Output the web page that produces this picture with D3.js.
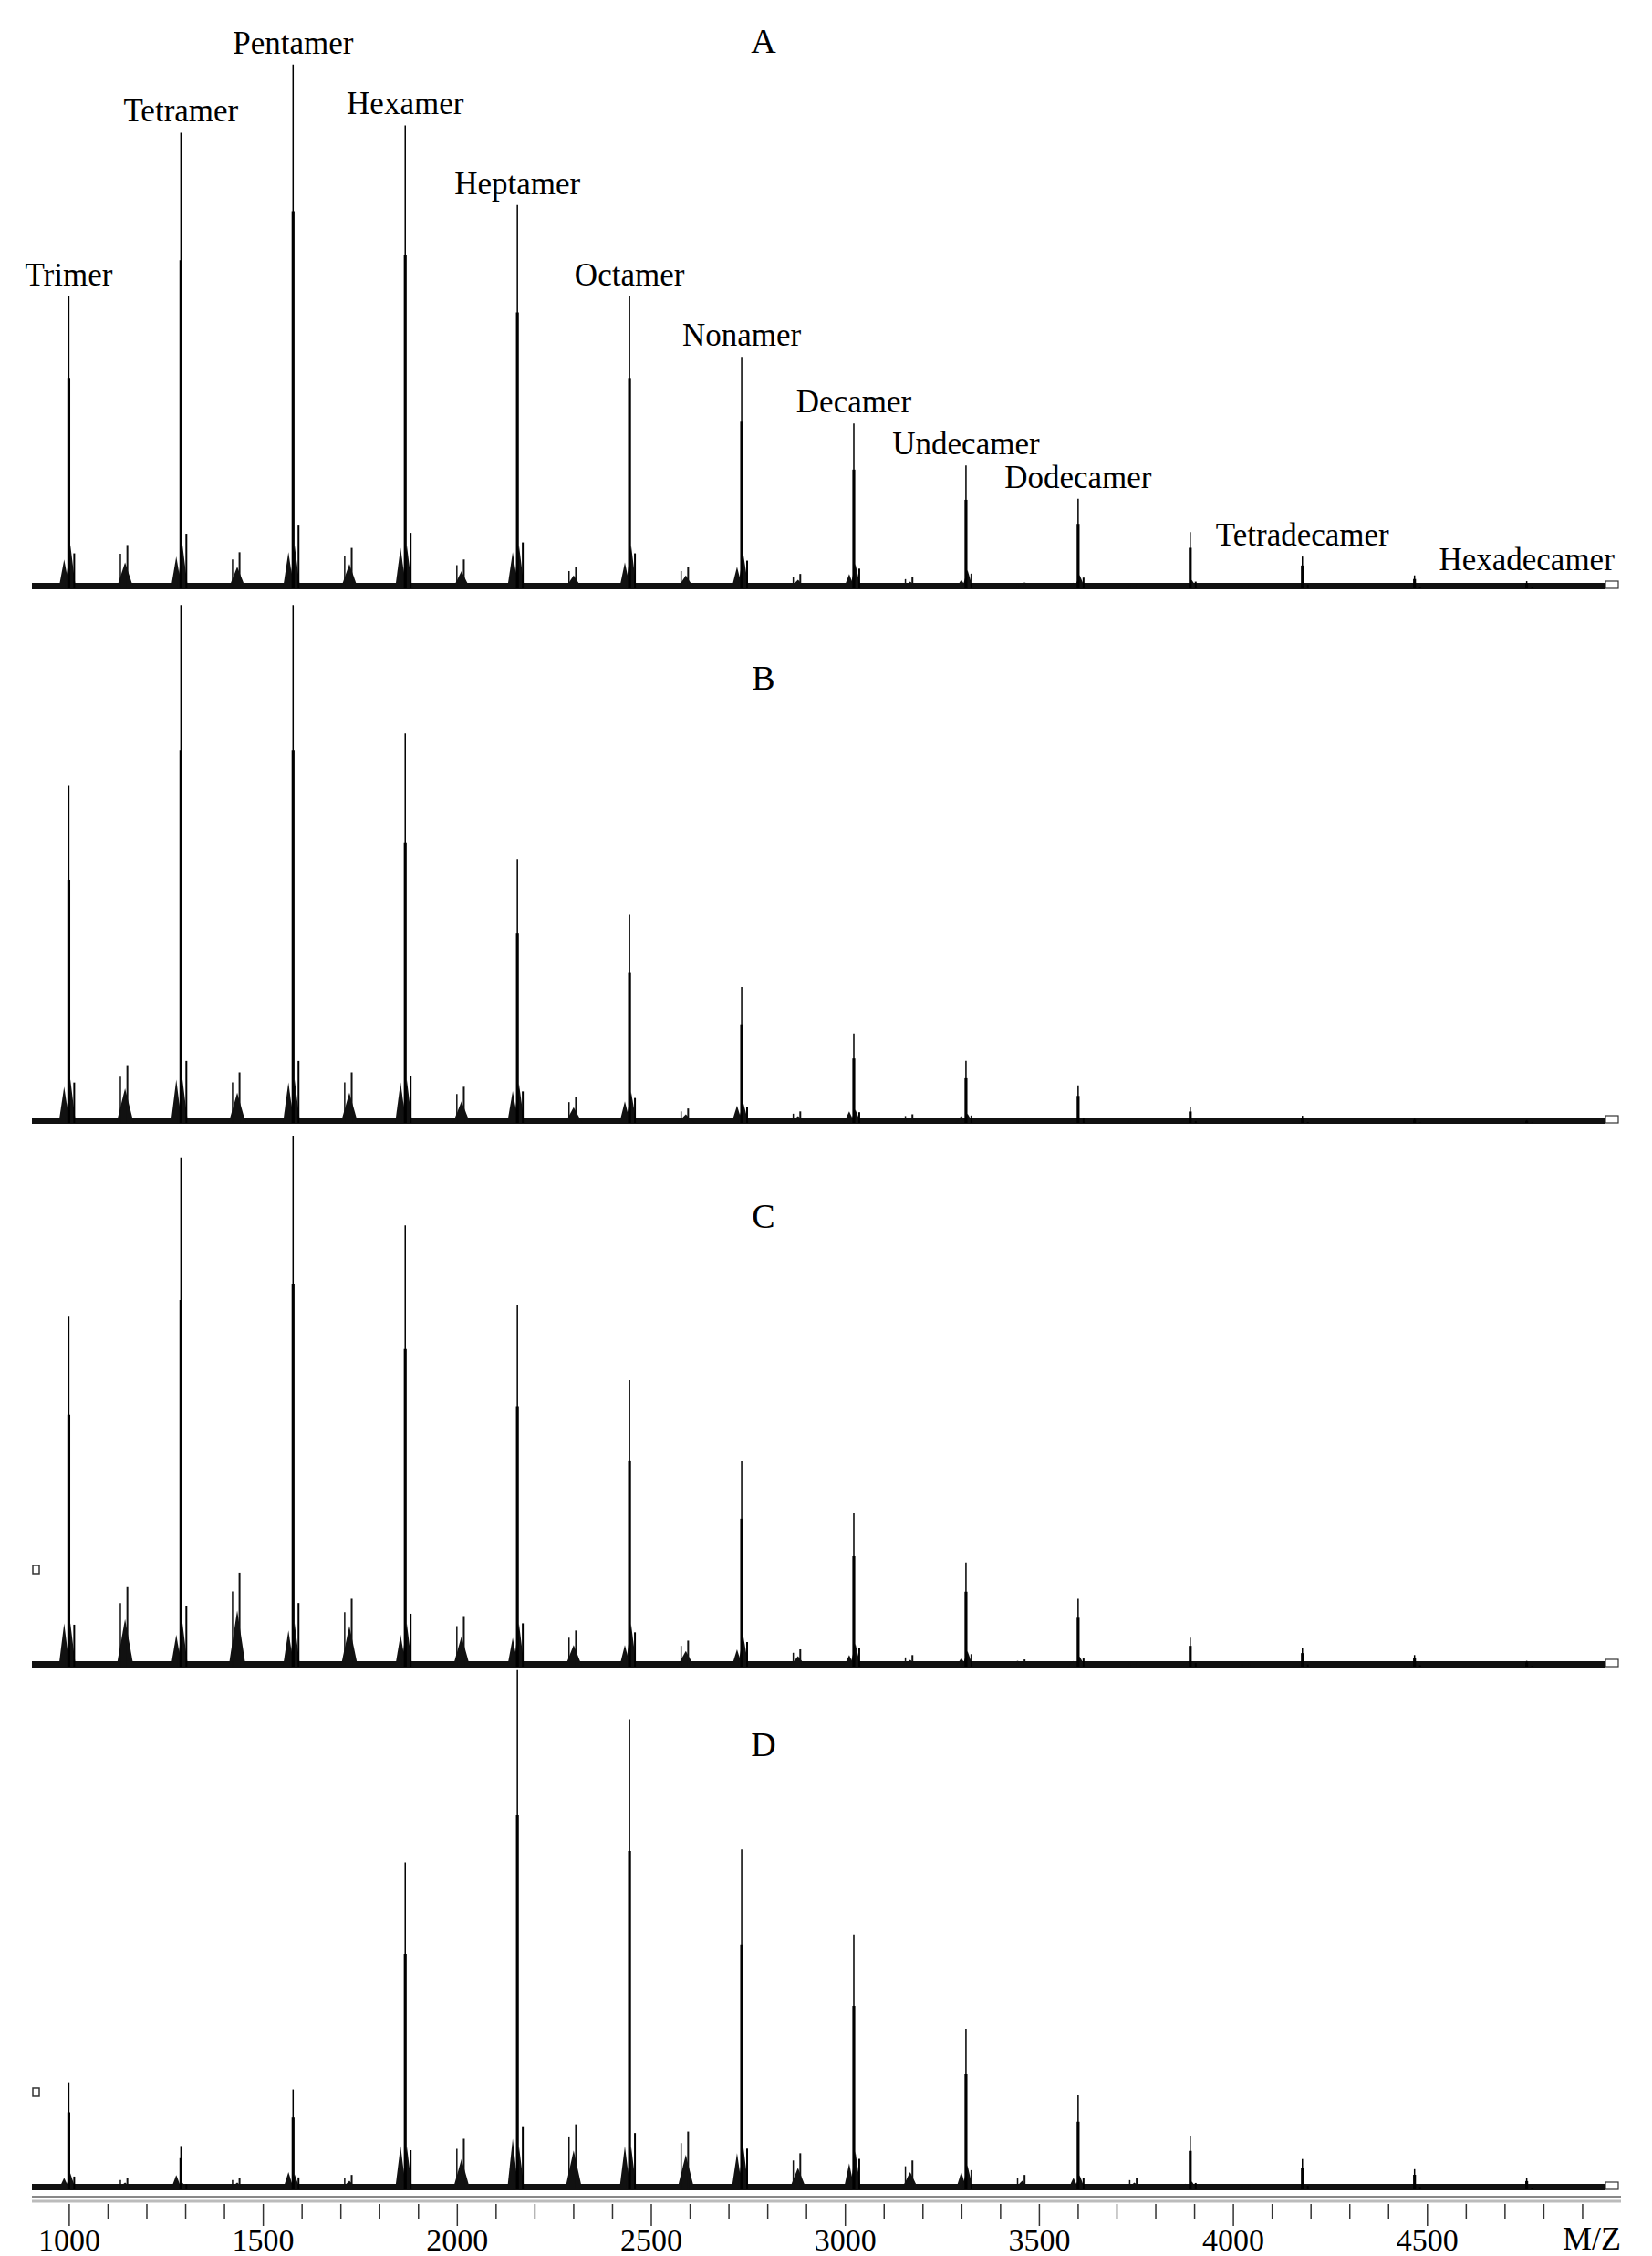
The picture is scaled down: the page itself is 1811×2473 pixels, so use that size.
<!DOCTYPE html>
<html><head><meta charset="utf-8">
<script src="https://cdn.jsdelivr.net/npm/d3@7"></script>
<style>body{margin:0;background:#fff}</style></head>
<body><svg id="c" width="1811" height="2473"></svg>
<script>
const panels = ["A","B","C","D"];
const oligomers = ["Trimer","Tetramer","Pentamer","Hexamer","Heptamer","Octamer","Nonamer","Decamer","Undecamer","Dodecamer","Tridecamer","Tetradecamer","Pentadecamer","Hexadecamer"];
const labelled = ["Trimer","Tetramer","Pentamer","Hexamer","Heptamer","Octamer","Nonamer","Decamer","Undecamer","Dodecamer","Tetradecamer","Hexadecamer"];
const mainMz = [1000,1289,1578,1867,2156,2445,2734,3023,3312,3601,3890,4179,4468,4757];
// main peak intensities (arbitrary units) per panel
const mainA = [202,315,362,320,265,202,160,114,85,62,39,22,9,5];
const mainB = [233,358,358,269,182,144,94,62,43,26,11,5,3,2];
const mainC = [242,352,367,305,250,198,142,106,72,47,20,13,8,4];
const mainD = [74,30,69,226,359,325,235,176,111,65,37,21,14,8];
// side-cluster peaks between oligomers (at main + 145 m/z)
const midMz = [1145,1434,1723,2012,2301,2590,2879,3168,3457,3746,4035,4324,4613];
const midA = [30,25,28,20,15,15,10,8,4,3,2,2,1];
const midB = [40,35,35,25,18,10,8,6,3,2,1,1,1];
const midC = [55,65,47,35,25,18,12,8,5,3,2,1,1];
const midD = [8,8,10,35,45,40,25,20,10,8,3,2,1];
// small shoulder peaks just before each main peak (main - 15 m/z)
const preA = [20,22,25,28,25,18,15,10,6,4,2,2,1,1];
const preB = [25,30,28,28,22,15,12,8,5,3,2,1,1,1];
const preC = [30,22,25,22,20,15,12,8,6,4,2,1,1,1];
const preD = [8,10,12,30,35,30,25,18,12,8,4,3,2,1];
const xTicks = [1000,1500,2000,2500,3000,3500,4000,4500];

const mains=[mainA,mainB,mainC,mainD], mids=[midA,midB,midC,midD], pres=[preA,preB,preC,preD];
const baselines=[645,1231,1827,2400];
const letterY=[44,742,1332,1911];
const svg=d3.select("#c");
const x=d3.scaleLinear().domain([905,5000]).range([35,1777]);
const k=1.586;
const font="'Liberation Serif','DejaVu Serif',serif";

panels.forEach((p,pi)=>{
  const b=baselines[pi];
  const y=d3.scaleLinear().domain([0,400]).range([b,b-400*k]);
  const g=svg.append("g");
  g.append("rect").attr("x",x(905)).attr("y",b-6).attr("width",x(4960)-x(905)).attr("height",7).attr("fill","#111");
  const tri=(mz,h,w)=>`M${x(mz-w)},${b}L${x(mz)},${y(h)}L${x(mz+w)},${b}Z`;
  mids[pi].forEach((h,i)=>{
    g.append("path").attr("d",tri(midMz[i],h*0.6,22)).attr("fill","#111");
    g.append("line").attr("x1",x(midMz[i]+6)).attr("x2",x(midMz[i]+6)).attr("y1",b).attr("y2",y(h)).attr("stroke","#111").attr("stroke-width",2);
    g.append("line").attr("x1",x(midMz[i]-12)).attr("x2",x(midMz[i]-12)).attr("y1",b).attr("y2",y(h*0.8)).attr("stroke","#111").attr("stroke-width",1.5);
  });
  pres[pi].forEach((h,i)=>{
    g.append("path").attr("d",tri(mainMz[i]-12,h,14)).attr("fill","#111");
  });
  mains[pi].forEach((h,i)=>{
    const m=mainMz[i];
    g.append("path").attr("d",tri(m+4,Math.min(h*0.15,30),14)).attr("fill","#111");
    g.append("line").attr("x1",x(m)).attr("x2",x(m)).attr("y1",b).attr("y2",y(h)).attr("stroke","#000").attr("stroke-width",1.5);
    g.append("line").attr("x1",x(m)).attr("x2",x(m)).attr("y1",b).attr("y2",y(h*0.72)).attr("stroke","#000").attr("stroke-width",3.2);
    g.append("line").attr("x1",x(m+14)).attr("x2",x(m+14)).attr("y1",b).attr("y2",y(h*0.12)).attr("stroke","#000").attr("stroke-width",2);
  });
  g.append("rect").attr("x",x(4960)).attr("y",b-8).attr("width",14).attr("height",8).attr("fill","#fff").attr("stroke","#333").attr("stroke-width",1.2);
  if(pi>=2) g.append("rect").attr("x",36).attr("y",b-70*k).attr("width",7).attr("height",9).attr("fill","#fff").attr("stroke","#333").attr("stroke-width",1.5);
  g.append("text").attr("x",837).attr("y",letterY[pi]+14).attr("text-anchor","middle")
    .attr("font-family",font).attr("font-size",38).text(p);
  if(pi===0){
    labelled.forEach(name=>{
      const i=oligomers.indexOf(name);
      const ty=Math.min(y(mainA[i])-12, b-14);
      g.append("text").attr("x",x(mainMz[i])).attr("y",ty).attr("text-anchor","middle")
        .attr("font-family",font).attr("font-size",35).text(name);
    });
  }
});

// axis
const ag=svg.append("g").attr("transform","translate(0,2408)");
ag.append("line").attr("x1",35).attr("x2",1777).attr("y1",0).attr("y2",0).attr("stroke","#888").attr("stroke-width",2);
ag.append("line").attr("x1",35).attr("x2",1777).attr("y1",5).attr("y2",5).attr("stroke","#bbb").attr("stroke-width",3);
const axis=d3.axisBottom(x).tickValues(d3.range(1000,5000,100)).tickSize(16).tickFormat(d=>xTicks.includes(d)?d:"");
const ax=ag.append("g").attr("transform","translate(0,8)").call(axis);
ax.select(".domain").remove();
ax.selectAll(".tick line").attr("stroke","#333").attr("stroke-width",1.5).attr("y2",d=>xTicks.includes(d)?24:16);
ax.selectAll(".tick text").attr("font-family",font).attr("font-size",34).attr("fill","#000").attr("y",27).attr("dy","0.71em");
svg.append("text").attr("x",1745).attr("y",2466).attr("text-anchor","middle").attr("font-family",font).attr("font-size",36).text("M/Z");
</script></body></html>
